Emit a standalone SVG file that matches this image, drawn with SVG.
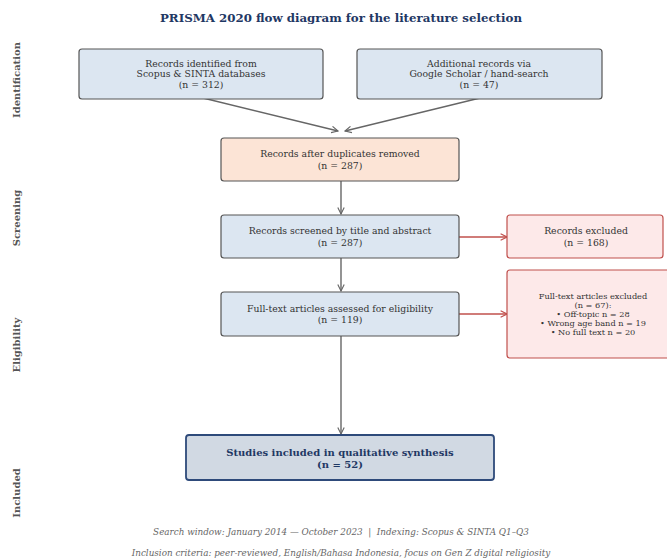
<svg xmlns="http://www.w3.org/2000/svg" width="667" height="559" viewBox="0 0 667 559">
<style>
text{font-family:"DejaVu Serif","Liberation Serif",serif;text-anchor:middle;fill:#333}
.t{font-size:9.3px}
.s{font-size:8.2px}
.blue{fill:#dce6f1;stroke:#555;stroke-width:1.2}
.orange{fill:#fce4d6;stroke:#555;stroke-width:1.2}
.red{fill:#fde9e9;stroke:#c0504d;stroke-width:1.2}
.inc{fill:#d1d9e3;stroke:#2e4a7a;stroke-width:1.8}
.side{font-size:10px;font-weight:bold;fill:#555}
.foot{font-size:8.8px;font-style:italic;fill:#666}
.c{stroke:#666;stroke-width:1.4;fill:none}
.cr{stroke:#c0504d;stroke-width:1.4;fill:none}
</style>
<defs>
<marker id="ag" viewBox="0 0 10 10" refX="9" refY="5" markerWidth="8" markerHeight="8" orient="auto" markerUnits="userSpaceOnUse"><path d="M1,1 L9,5 L1,9" fill="none" stroke="#666" stroke-width="1.4"/></marker>
<marker id="ar" viewBox="0 0 10 10" refX="9" refY="5" markerWidth="8" markerHeight="8" orient="auto" markerUnits="userSpaceOnUse"><path d="M1,1 L9,5 L1,9" fill="none" stroke="#c0504d" stroke-width="1.4"/></marker>
</defs>
<rect width="667" height="559" fill="#fff"/>
<text x="341" y="22" style="font-size:11.8px;font-weight:bold;fill:#1f3864">PRISMA 2020 flow diagram for the literature selection</text>
<g id="sides">
<text class="side" transform="translate(20,80) rotate(-90)">Identification</text>
<text class="side" transform="translate(20,218) rotate(-90)">Screening</text>
<text class="side" transform="translate(20,345) rotate(-90)">Eligibility</text>
<text class="side" transform="translate(20,493) rotate(-90)">Included</text>
</g>
<g id="connectors">
<line class="c" x1="203" y1="98" x2="338" y2="131" marker-end="url(#ag)"/>
<line class="c" x1="480" y1="98" x2="345" y2="131" marker-end="url(#ag)"/>
<line class="c" x1="341" y1="181" x2="341" y2="214" marker-end="url(#ag)"/>
<line class="c" x1="341" y1="258" x2="341" y2="291" marker-end="url(#ag)"/>
<line class="c" x1="341" y1="336" x2="341" y2="434" marker-end="url(#ag)"/>
<line class="cr" x1="459" y1="237" x2="507" y2="237" marker-end="url(#ar)"/>
<line class="cr" x1="459" y1="314" x2="507" y2="314" marker-end="url(#ar)"/>
</g>
<g id="n1"><rect class="blue" x="79" y="49" width="244" height="50" rx="3"/>
<text class="t" x="201" y="66.5">Records identified from</text><text class="t" x="201" y="77">Scopus &amp; SINTA databases</text><text class="t" x="201" y="87.5">(n = 312)</text></g>
<g id="n2"><rect class="blue" x="357" y="49" width="245" height="50" rx="3"/>
<text class="t" x="479" y="66.5">Additional records via</text><text class="t" x="479" y="77">Google Scholar / hand-search</text><text class="t" x="479" y="87.5">(n = 47)</text></g>
<g id="n3"><rect class="orange" x="221" y="138" width="238" height="43" rx="3"/>
<text class="t" x="340" y="157">Records after duplicates removed</text><text class="t" x="340" y="168.5">(n = 287)</text></g>
<g id="n4"><rect class="blue" x="221" y="215" width="238" height="43" rx="3"/>
<text class="t" x="340" y="234">Records screened by title and abstract</text><text class="t" x="340" y="245.5">(n = 287)</text></g>
<g id="n5"><rect class="red" x="507" y="215" width="156" height="43" rx="3"/>
<text class="t" x="586" y="234">Records excluded</text><text class="t" x="586" y="245.5">(n = 168)</text></g>
<g id="n6"><rect class="blue" x="221" y="292" width="238" height="44" rx="3"/>
<text class="t" x="340" y="311.5">Full-text articles assessed for eligibility</text><text class="t" x="340" y="323">(n = 119)</text></g>
<g id="n7"><rect class="red" x="507" y="270" width="175" height="88" rx="3"/>
<text class="s" x="593" y="298.5">Full-text articles excluded</text><text class="s" x="593" y="307.5">(n = 67):</text><text class="s" x="593" y="316.5">• Off-topic n = 28</text><text class="s" x="593" y="325.5">• Wrong age band n = 19</text><text class="s" x="593" y="334.5">• No full text n = 20</text></g>
<g id="n8"><rect class="inc" x="186" y="435" width="308" height="45" rx="3"/>
<text x="340" y="456" style="font-size:10px;font-weight:bold;fill:#1f3864">Studies included in qualitative synthesis</text><text x="340" y="467.5" style="font-size:10px;font-weight:bold;fill:#1f3864">(n = 52)</text></g>
<text class="foot" x="341" y="535" xml:space="preserve">Search window: January 2014 — October 2023  |  Indexing: Scopus &amp; SINTA Q1–Q3</text>
<text class="foot" x="341" y="556">Inclusion criteria: peer-reviewed, English/Bahasa Indonesia, focus on Gen Z digital religiosity</text>
</svg>
